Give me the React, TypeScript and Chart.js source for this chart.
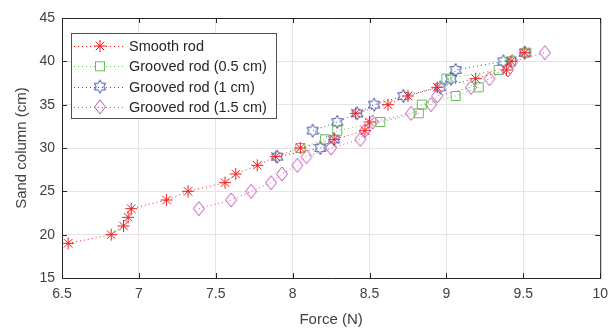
import React, { useEffect, useRef } from 'react';
import { Chart, registerables } from 'chart.js';
Chart.register(...registerables);

const seriesNames = ['Smooth rod', 'Grooved rod (0.5 cm)', 'Grooved rod (1 cm)', 'Grooved rod (1.5 cm)'];

const smoothForce = [6.54, 6.82, 6.9, 6.93, 6.95, 7.18, 7.32, 7.56, 7.63, 7.77, 7.89, 8.05, 8.27, 8.47, 8.5, 8.41, 8.62, 8.75, 8.94, 9.19, 9.39, 9.42, 9.51];
const smoothSand = [19, 20, 21, 22, 23, 24, 25, 26, 27, 28, 29, 30, 31, 32, 33, 34, 35, 36, 37, 38, 39, 40, 41];

const groove05Force = [8.05, 8.21, 8.29, 8.57, 8.82, 8.84, 9.06, 9.21, 9.0, 9.34, 9.42, 9.52];
const groove05Sand = [30, 31, 32, 33, 34, 35, 36, 37, 38, 39, 40, 41];

const groove1Force = [7.9, 8.18, 8.27, 8.13, 8.29, 8.42, 8.53, 8.72, 8.96, 9.03, 9.06, 9.37, 9.51];
const groove1Sand = [29, 30, 31, 32, 33, 34, 35, 36, 37, 38, 39, 40, 41];

const groove15Force = [7.39, 7.6, 7.73, 7.86, 7.93, 8.03, 8.09, 8.25, 8.44, 8.47, 8.52, 8.77, 8.9, 8.94, 9.16, 9.28, 9.4, 9.43, 9.64];
const groove15Sand = [23, 24, 25, 26, 27, 28, 29, 30, 31, 32, 33, 34, 35, 36, 37, 38, 39, 40, 41];

const xTickValues = [6.5, 7, 7.5, 8, 8.5, 9, 9.5, 10];
const xTickLabels = ['6.5', '7', '7.5', '8', '8.5', '9', '9.5', '10'];
const yTickValues = [15, 20, 25, 30, 35, 40, 45];
const yTickLabels = ['15', '20', '25', '30', '35', '40', '45'];

const COLORS = ['#f02020', '#6cbc5c', '#3a4fa6', '#c050b4'];
const FONT = "'Liberation Sans', Arial, sans-serif";
const TEXT = '#404040';
const AXIS = '#262626';

function pts(xs: number[], ys: number[]) {
  return xs.map((x, i) => ({ x, y: ys[i] }));
}

function makeHexagram(color: string) {
  const c = document.createElement('canvas');
  c.width = 16; c.height = 16;
  const ctx = c.getContext('2d')!;
  ctx.strokeStyle = color;
  ctx.lineWidth = 1;
  const R = 6.5, r = R / Math.sqrt(3);
  ctx.beginPath();
  for (let i = 0; i < 12; i++) {
    const a = -Math.PI / 2 + (i * Math.PI) / 6;
    const rad = i % 2 === 0 ? R : r;
    const px = 8 + rad * Math.cos(a), py = 8 + rad * Math.sin(a);
    if (i === 0) ctx.moveTo(px, py); else ctx.lineTo(px, py);
  }
  ctx.closePath();
  ctx.stroke();
  return c;
}

function makeDiamond(color: string) {
  const c = document.createElement('canvas');
  c.width = 14; c.height = 16;
  const ctx = c.getContext('2d')!;
  ctx.strokeStyle = color;
  ctx.lineWidth = 1;
  ctx.beginPath();
  ctx.moveTo(7, 1);
  ctx.lineTo(12.5, 8);
  ctx.lineTo(7, 15);
  ctx.lineTo(1.5, 8);
  ctx.closePath();
  ctx.stroke();
  return c;
}

export default function App() {
  const ref = useRef<HTMLCanvasElement>(null);
  useEffect(() => {
    const hex = makeHexagram(COLORS[2]);
    const dia = makeDiamond(COLORS[3]);

    const framePlugin = {
      id: 'frame',
      afterDraw(chart: any) {
        const { ctx, chartArea: a, scales } = chart;
        ctx.save();
        ctx.strokeStyle = AXIS;
        ctx.lineWidth = 1;
        ctx.beginPath();
        ctx.moveTo(a.left, a.top + 0.5);
        ctx.lineTo(a.right + 0.5, a.top + 0.5);
        ctx.lineTo(a.right + 0.5, a.bottom);
        ctx.stroke();
        const tl = 5;
        ctx.beginPath();
        for (const v of xTickValues) {
          const px = Math.round(scales.x.getPixelForValue(v)) + 0.5;
          ctx.moveTo(px, a.bottom); ctx.lineTo(px, a.bottom - tl);
          ctx.moveTo(px, a.top); ctx.lineTo(px, a.top + tl);
        }
        for (const v of yTickValues) {
          const py = Math.round(scales.y.getPixelForValue(v)) + 0.5;
          ctx.moveTo(a.left, py); ctx.lineTo(a.left + tl, py);
          ctx.moveTo(a.right, py); ctx.lineTo(a.right - tl, py);
        }
        ctx.stroke();

        // legend
        const lx = 71, ly = 33, lw = 205, lh = 85;
        ctx.fillStyle = '#ffffff';
        ctx.fillRect(lx, ly, lw, lh);
        ctx.strokeStyle = '#505050';
        ctx.strokeRect(lx + 0.5, ly + 0.5, lw, lh);
        ctx.font = `14.5px ${FONT}`;
        ctx.textBaseline = 'middle';
        ctx.textAlign = 'left';
        seriesNames.forEach((name, i) => {
          const y = 46 + i * 20.3;
          ctx.strokeStyle = COLORS[i];
          ctx.setLineDash([1, 3]);
          ctx.beginPath();
          ctx.moveTo(74, Math.round(y) + 0.5);
          ctx.lineTo(124, Math.round(y) + 0.5);
          ctx.stroke();
          ctx.setLineDash([]);
          const mx = 100;
          ctx.fillStyle = '#ffffff';
          if (i === 0) {
            ctx.beginPath();
            const r = 6;
            for (let k = 0; k < 4; k++) {
              const ang = (k * Math.PI) / 4;
              ctx.moveTo(mx - r * Math.cos(ang), y - r * Math.sin(ang));
              ctx.lineTo(mx + r * Math.cos(ang), y + r * Math.sin(ang));
            }
            ctx.stroke();
          } else if (i === 1) {
            ctx.fillRect(mx - 4.5, y - 4.5, 9, 9);
            ctx.strokeRect(mx - 4.5, y - 4.5, 9, 9);
          } else if (i === 2) {
            ctx.drawImage(hex, mx - 8, y - 8);
          } else {
            ctx.drawImage(dia, mx - 7, y - 8);
          }
          ctx.fillStyle = '#262626';
          ctx.fillText(name, 129, y + 1);
        });
        ctx.restore();
      },
    };

    const lineDs = (label: string, data: any[], color: string, style: any, radius: number) => ({
      label,
      data,
      showLine: true,
      borderColor: color,
      backgroundColor: 'rgba(0,0,0,0)',
      borderWidth: 1,
      borderDash: [1, 3],
      pointStyle: style,
      pointRadius: radius,
      pointBorderWidth: 1,
      pointBorderColor: color,
      pointBackgroundColor: 'rgba(0,0,0,0)',
      tension: 0,
    });

    const chart = new Chart(ref.current!, {
      type: 'scatter',
      data: {
        datasets: [
          lineDs(seriesNames[0], pts(smoothForce, smoothSand), COLORS[0], 'star', 6),
          lineDs(seriesNames[1], pts(groove05Force, groove05Sand), COLORS[1], 'rect', 6.4),
          lineDs(seriesNames[2], pts(groove1Force, groove1Sand), COLORS[2], hex, 7),
          lineDs(seriesNames[3], pts(groove15Force, groove15Sand), COLORS[3], dia, 7),
        ],
      },
      options: {
        responsive: false,
        animation: false,
        layout: { padding: { top: 18, right: 15, left: 0, bottom: 0 } },
        plugins: { legend: { display: false }, tooltip: { enabled: false } },
        scales: {
          x: {
            type: 'linear',
            min: 6.5,
            max: 10,
            afterBuildTicks: (s: any) => { s.ticks = xTickValues.map((v) => ({ value: v })); },
            afterFit: (s: any) => { s.height = 52; },
            ticks: {
              font: { size: 14, family: FONT }, color: TEXT, padding: 8, maxRotation: 0, autoSkip: false,
              callback: (v: any) => { const i = xTickValues.indexOf(Number(v)); return i >= 0 ? xTickLabels[i] : ''; },
            },
            grid: { color: '#e4e4e4', drawTicks: false },
            border: { display: true, color: AXIS },
            title: { display: true, text: 'Force (N)', font: { size: 15, family: FONT }, color: TEXT, padding: { top: 0, bottom: 1 } },
          },
          y: {
            type: 'linear',
            min: 15,
            max: 45,
            afterBuildTicks: (s: any) => { s.ticks = yTickValues.map((v) => ({ value: v })); },
            afterFit: (s: any) => { s.width = 62; },
            ticks: {
              font: { size: 14, family: FONT }, color: TEXT, padding: 7,
              callback: (v: any) => { const i = yTickValues.indexOf(Number(v)); return i >= 0 ? yTickLabels[i] : ''; },
            },
            grid: { color: '#e4e4e4', drawTicks: false },
            border: { display: true, color: AXIS },
            title: { display: true, text: 'Sand column (cm)', font: { size: 15, family: FONT }, color: TEXT, padding: { top: 13, bottom: 0 } },
          },
        },
      },
      plugins: [framePlugin],
    } as any);
    return () => chart.destroy();
  }, []);
  return (
    <div style={{ position: 'fixed', left: 0, top: 0, width: 616, height: 330, background: '#fff' }}>
      <canvas ref={ref} width={616} height={330} style={{ display: 'block' }} />
    </div>
  );
}
